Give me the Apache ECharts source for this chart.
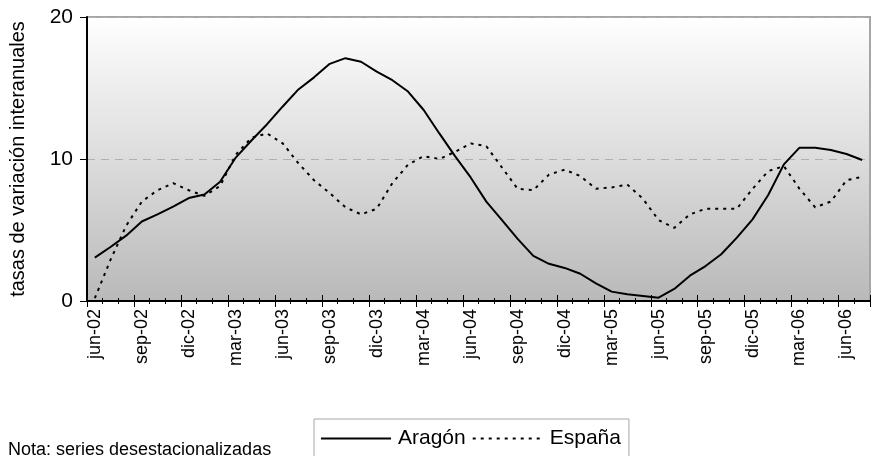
<!DOCTYPE html>
<html>
<head>
<meta charset="utf-8">
<script src="https://cdn.jsdelivr.net/npm/echarts@6/dist/echarts.min.js"></script>
<style>
  html, body { margin: 0; padding: 0; background: #fff; }
  #chart { width: 872px; height: 456px; }
</style>
</head>
<body>
<div id="chart"></div>
<script>
  // meses jun-02 .. jul-06
  const meses = [
    'jun-02','jul-02','ago-02','sep-02','oct-02','nov-02','dic-02','ene-03','feb-03','mar-03','abr-03','may-03',
    'jun-03','jul-03','ago-03','sep-03','oct-03','nov-03','dic-03','ene-04','feb-04','mar-04','abr-04','may-04',
    'jun-04','jul-04','ago-04','sep-04','oct-04','nov-04','dic-04','ene-05','feb-05','mar-05','abr-05','may-05',
    'jun-05','jul-05','ago-05','sep-05','oct-05','nov-05','dic-05','ene-06','feb-06','mar-06','abr-06','may-06',
    'jun-06','jul-06'
  ]
  // tasas de variación interanuales (series desestacionalizadas)
  const aragon = [
    3.05, 3.8, 4.6, 5.6, 6.1, 6.65, 7.25, 7.5, 8.4, 10.1, 11.3, 12.45,
    13.7, 14.9, 15.75, 16.7, 17.1, 16.85, 16.15, 15.55, 14.75, 13.45, 11.8, 10.2,
    8.7, 7.0, 5.7, 4.38, 3.18, 2.62, 2.33, 1.92, 1.24, 0.66, 0.47, 0.35,
    0.23, 0.85, 1.78, 2.46, 3.29, 4.46, 5.75, 7.46, 9.62, 10.8, 10.8, 10.63,
    10.35, 9.93
  ]
  const espana = [
    0.2, 2.9, 5.3, 7.0, 7.8, 8.3, 7.8, 7.4, 8.1, 10.3, 11.5, 11.8,
    11.1, 9.7, 8.5, 7.6, 6.6, 6.1, 6.5, 8.3, 9.6, 10.2, 10.0, 10.5,
    11.1, 10.9, 9.4, 7.9, 7.8, 8.9, 9.25, 8.8, 7.9, 8.0, 8.2, 7.2,
    5.7, 5.15, 6.1, 6.5, 6.5, 6.5, 7.9, 9.15, 9.5, 7.9, 6.6, 7.0,
    8.5, 8.75
  ]
  const yTicks = [0, 10, 20]

  const chart = echarts.init(document.getElementById('chart'))

  // ejes x extra: solo para dibujar las marcas cruzadas (cortas y largas)
  const tickAxis = (inside, len, interval) => ({
    type: 'category',
    data: meses,
    position: 'bottom',
    axisLine: { show: false },
    axisLabel: { show: false },
    splitLine: { show: false },
    axisTick: { show: true, inside: inside, length: len, interval: interval,
      lineStyle: { color: '#000', width: 1 } }
  })

  const option = {
    animation: false,
    backgroundColor: '#fff',
    textStyle: { fontFamily: 'Liberation Sans, Arial, sans-serif' },
    grid: {
      left: 87, top: 17, right: 2, bottom: 155,
      show: true,
      borderColor: '#a6a6a6',
      borderWidth: 2,
      backgroundColor: new echarts.graphic.LinearGradient(0, 0, 0, 1, [
        { offset: 0, color: '#ffffff' },
        { offset: 1, color: '#b9b9b9' }
      ])
    },
    legend: {
      top: 419,
      left: 314,
      data: ['Aragón', 'España'],
      itemWidth: 70,
      itemHeight: 10,
      itemGap: 6,
      padding: [9, 8, 40, 6],
      borderColor: '#a6a6a6',
      borderWidth: 1,
      backgroundColor: '#fff',
      itemStyle: { opacity: 0 },
      textStyle: { fontSize: 21, color: '#000', padding: [0, 0, 0, 2] }
    },
    graphic: [
      {
        type: 'text',
        left: 8,
        top: 441,
        style: { text: 'Nota: series desestacionalizadas', fontSize: 18, fill: '#000',
          fontFamily: 'Liberation Sans, sans-serif' }
      }
    ],
    xAxis: [
      {
        type: 'category',
        data: meses,
        boundaryGap: true,
        axisLine: { show: true, lineStyle: { color: '#000', width: 2 } },
        axisTick: { show: true, length: 3, interval: 0, lineStyle: { color: '#000', width: 1 } },
        axisLabel: {
          interval: 2,
          rotate: 90,
          fontSize: 18,
          color: '#000',
          margin: 8
        },
        splitLine: { show: false }
      },
      tickAxis(true, 3, 0),
      tickAxis(false, 6, 2),
      tickAxis(true, 6, 2)
    ],
    yAxis: {
      type: 'value',
      min: yTicks[0],
      max: yTicks[yTicks.length - 1],
      interval: 10,
      name: 'tasas de variación interanuales',
      nameLocation: 'middle',
      nameGap: 59,
      nameTextStyle: { fontSize: 20, color: '#000' },
      axisLine: { show: true, lineStyle: { color: '#000', width: 2 } },
      axisTick: { show: true, length: 7, lineStyle: { color: '#000' } },
      axisLabel: { fontSize: 21, color: '#000', margin: 14 },
      splitLine: { show: true, lineStyle: { color: '#b0b0b0', type: [8, 6], width: 1 } }
    },
    series: [
      {
        name: 'Aragón',
        type: 'line',
        data: aragon,
        symbol: 'none',
        lineStyle: { color: '#000', width: 2 },
        itemStyle: { color: '#000' },
        z: 3
      },
      {
        name: 'España',
        type: 'line',
        data: espana,
        symbol: 'none',
        lineStyle: { color: '#000', width: 2, type: [3, 5] },
        itemStyle: { color: '#000' },
        z: 2
      }
    ]
  }
  chart.setOption(option)
</script>
</body>
</html>
